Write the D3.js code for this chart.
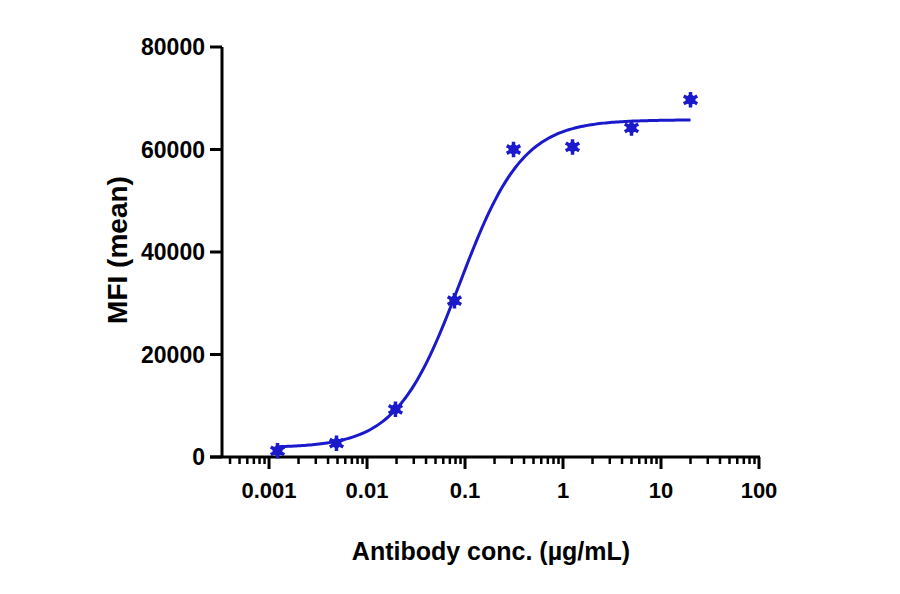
<!DOCTYPE html>
<html><head><meta charset="utf-8">
<script src="https://cdn.jsdelivr.net/npm/d3@7"></script>
<style>body{margin:0;background:#fff}</style></head>
<body><svg id="c" width="900" height="594"></svg>
<script>
const conc = [0.00122, 0.00488, 0.0195, 0.078, 0.3125, 1.25, 5, 20];
const mfi = [1200, 2700, 9300, 30500, 60000, 60500, 64200, 69700];
const fit = {bottom: 1800, top: 65800, ec50: 0.088, hill: 1.35};
const yTicks = [0, 20000, 40000, 60000, 80000];
const xTicks = [0.001, 0.01, 0.1, 1, 10, 100];

const svg = d3.select("#c");
const x = d3.scaleLog().domain([Math.pow(10, -3.48), 100]).range([222, 759]);
const y = d3.scaleLinear().domain([0, 80000]).range([457, 47]);
const font = "Arial, 'Liberation Sans', sans-serif";
const blue = "#1a1acc";

// y axis
svg.append("line").attr("x1", 222).attr("x2", 222).attr("y1", y(80000)).attr("y2", y(0))
  .attr("stroke", "#000").attr("stroke-width", 3);
yTicks.forEach(t => {
  svg.append("line").attr("x1", 210).attr("x2", 222).attr("y1", y(t)).attr("y2", y(t))
    .attr("stroke", "#000").attr("stroke-width", 3);
  svg.append("text").attr("x", 205).attr("y", y(t) + 8).attr("text-anchor", "end")
    .attr("font-family", font).attr("font-weight", "bold").attr("font-size", 23).text(t);
});

// x axis
svg.append("line").attr("x1", 210).attr("x2", 760).attr("y1", 457).attr("y2", 457)
  .attr("stroke", "#000").attr("stroke-width", 3);
const minor = [];
for (let e = -4; e <= 1; e++) for (let m = 2; m <= 9; m++) {
  const v = m * Math.pow(10, e);
  if (v >= x.domain()[0] && v <= 100) minor.push(v);
}
minor.forEach(v => svg.append("line").attr("x1", x(v)).attr("x2", x(v)).attr("y1", 457).attr("y2", 464)
  .attr("stroke", "#000").attr("stroke-width", 2.5));
xTicks.forEach(v => {
  svg.append("line").attr("x1", x(v)).attr("x2", x(v)).attr("y1", 457).attr("y2", 469)
    .attr("stroke", "#000").attr("stroke-width", 3);
  svg.append("text").attr("x", x(v)).attr("y", 498).attr("text-anchor", "middle")
    .attr("font-family", font).attr("font-weight", "bold").attr("font-size", 22).text(v);
});

// titles
svg.append("text").attr("x", 491).attr("y", 560).attr("text-anchor", "middle")
  .attr("font-family", font).attr("font-weight", "bold").attr("font-size", 25).text("Antibody conc. (µg/mL)");
svg.append("text").attr("transform", "translate(127,250) rotate(-90)").attr("text-anchor", "middle")
  .attr("font-family", font).attr("font-weight", "bold").attr("font-size", 28).text("MFI (mean)");

// fitted curve
const f = c => fit.bottom + (fit.top - fit.bottom) / (1 + Math.pow(fit.ec50 / c, fit.hill));
const curve = d3.range(0, 201).map(i => {
  const c = Math.pow(10, Math.log10(conc[0]) + i / 200 * (Math.log10(conc[conc.length - 1]) - Math.log10(conc[0])));
  return [c, f(c)];
});
svg.append("path").datum(curve)
  .attr("d", d3.line().x(d => x(d[0])).y(d => y(d[1])))
  .attr("fill", "none").attr("stroke", blue).attr("stroke-width", 3);

// points
const star = d3.symbol().type(d3.symbolAsterisk).size(170);
conc.forEach((c, i) => {
  const g = svg.append("g").attr("transform", `translate(${x(c)},${y(mfi[i])})`);
  g.append("circle").attr("r", 5).attr("fill", blue);
  g.append("path").attr("d", star()).attr("stroke", blue).attr("stroke-width", 3.5).attr("fill", "none");
});
</script></body></html>
